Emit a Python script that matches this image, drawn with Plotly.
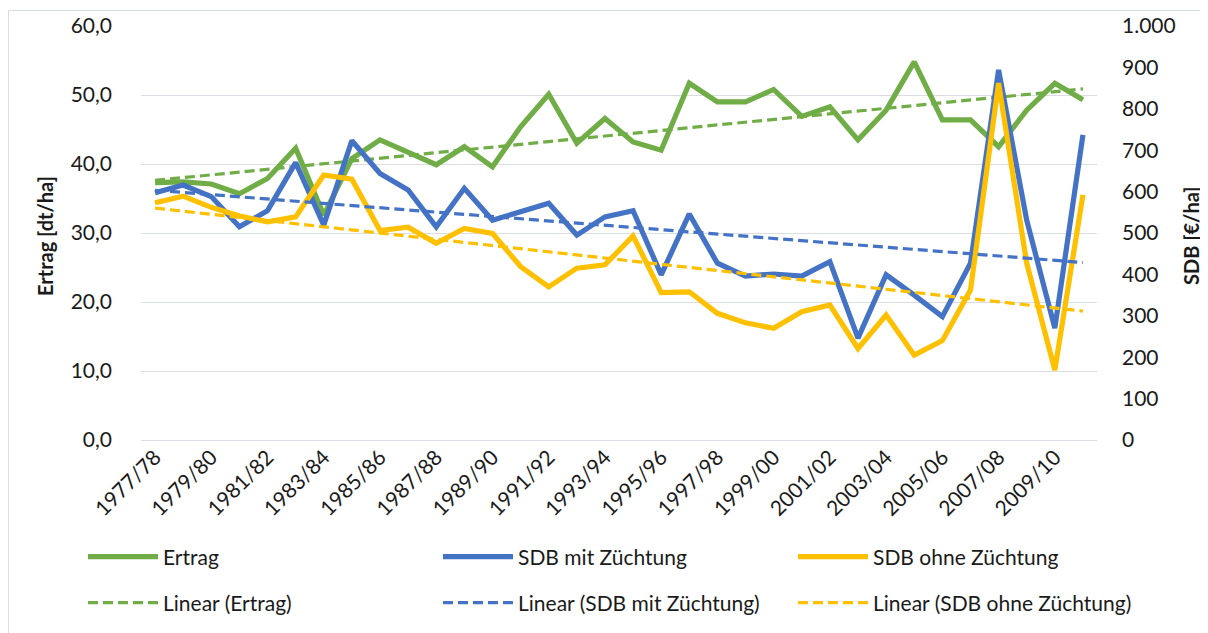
import numpy as np
import plotly.graph_objects as go

seasons = ["1977/78", "1978/79", "1979/80", "1980/81", "1981/82", "1982/83", "1983/84",
           "1984/85", "1985/86", "1986/87", "1987/88", "1988/89", "1989/90", "1990/91",
           "1991/92", "1992/93", "1993/94", "1994/95", "1995/96", "1996/97", "1997/98",
           "1998/99", "1999/00", "2000/01", "2001/02", "2002/03", "2003/04", "2004/05",
           "2005/06", "2006/07", "2007/08", "2008/09", "2009/10", "2010/11"]

ertrag = [37.3, 37.4, 37.1, 35.7, 37.9, 42.3, 32.6, 40.8, 43.5, 41.8, 39.9, 42.5,
          39.6, 45.4, 50.1, 43.0, 46.6, 43.2, 42.0, 51.7, 49.0, 49.0, 50.8, 46.9,
          48.3, 43.5, 47.8, 54.8, 46.4, 46.4, 42.5, 47.8, 51.7, 49.3]

sdb_mit = [597, 616, 588, 515, 554, 670, 519, 723, 644, 604, 515, 608, 531, 551,
           572, 495, 539, 554, 399, 546, 427, 396, 401, 396, 431, 246, 399, 350,
           298, 427, 894, 531, 270, 737]

sdb_ohne = [573, 589, 562, 541, 527, 539, 640, 630, 506, 514, 475, 511, 499, 419,
            370, 415, 423, 493, 356, 358, 306, 283, 270, 310, 326, 221, 302, 205,
            240, 362, 862, 427, 169, 592]

tick_labels = seasons[::2]

GREEN = "#70AD47"
BLUE = "#4472C4"
YELLOW = "#FFC000"
FONT = "Lato, Calibri, Carlito, sans-serif"
TXT = "#1a1a1a"
GRID = "#dadde2"


def linear_trend(values):
    idx = np.arange(len(values))
    slope, intercept = np.polyfit(idx, np.asarray(values, dtype=float), 1)
    return (slope * idx + intercept).tolist()


MAIN_W = 5.2
TREND_W = 3.2
DASH = "10px,5px"

# page has an 8px body margin; work in page pixel coordinates
OFF = 8
PAGE_W, PAGE_H = 1208, 633
W, H = PAGE_W - OFF, PAGE_H - OFF
PL, PR, PT, PB = 141, 1097, 26, 440          # plot area in page pixels
L, T = PL - OFF, PT - OFF
R, B = W - (PR - OFF), H - (PB - OFF)
pw, ph = PR - PL, PB - PT


def px_x(x):
    return (x - PL) / pw


def px_y(y):
    return (PB - y) / ph


series = [
    ("Ertrag", ertrag, GREEN, "y", False, 83, 557),
    ("SDB mit Züchtung", sdb_mit, BLUE, "y2", False, 438, 557),
    ("SDB ohne Züchtung", sdb_ohne, YELLOW, "y2", False, 793, 557),
    ("Linear (Ertrag)", linear_trend(ertrag), GREEN, "y", True, 83, 603),
    ("Linear (SDB mit Züchtung)", linear_trend(sdb_mit), BLUE, "y2", True, 438, 603),
    ("Linear (SDB ohne Züchtung)", linear_trend(sdb_ohne), YELLOW, "y2", True, 793, 603),
]

fig = go.Figure()
legends = {}
for k, (name, vals, color, yax, dashed, lx, ly) in enumerate(series):
    lid = "legend" if k == 0 else f"legend{k + 1}"
    line = dict(color=color, width=TREND_W if dashed else MAIN_W)
    if dashed:
        line["dash"] = DASH
    fig.add_trace(go.Scatter(x=seasons, y=vals, name=name, mode="lines", line=line,
                             yaxis=yax, legend=lid))
    legends[lid] = dict(orientation="v", xanchor="left", yanchor="middle",
                        x=px_x(lx), y=px_y(ly), itemwidth=70,
                        font=dict(family=FONT, size=21, color=TXT),
                        bgcolor="rgba(0,0,0,0)")

fig.update_layout(
    width=W, height=H,
    margin=dict(l=L, r=R, t=T, b=B, autoexpand=False),
    paper_bgcolor="white", plot_bgcolor="white",
    separators=",.",
    font=dict(family=FONT, size=21, color=TXT),
    xaxis=dict(type="category", tickmode="array", tickvals=tick_labels, ticktext=tick_labels,
               tickangle=-45, showgrid=False, showline=False, ticks="", automargin=False,
               tickfont=dict(family=FONT, size=21, color=TXT), range=[-0.5, len(seasons) - 0.5]),
    yaxis=dict(range=[0, 60], dtick=10, tickformat=".1f", showgrid=True, gridcolor=GRID,
               gridwidth=1, zeroline=True, zerolinecolor=GRID, zerolinewidth=1,
               showline=False, ticks="", ticklabelstandoff=28, automargin=False,
               tickfont=dict(family=FONT, size=21, color=TXT)),
    yaxis2=dict(range=[0, 1000], dtick=100, tickformat=",d", overlaying="y", side="right",
                showgrid=False, zeroline=False, showline=False, ticks="", ticklabelstandoff=24,
                automargin=False, tickfont=dict(family=FONT, size=21, color=TXT)),
    showlegend=True,
    shapes=[dict(type="rect", xref="paper", yref="paper",
                 x0=px_x(8.5), x1=px_x(1240), y0=px_y(680), y1=px_y(10.5),
                 line=dict(color="#d9dce1", width=1), fillcolor="rgba(0,0,0,0)", layer="below")],
    annotations=[
        dict(text="<b>Ertrag [dt/ha]</b>", x=px_x(45), y=px_y(236), xref="paper", yref="paper",
             xanchor="center", yanchor="middle",
             textangle=-90, showarrow=False, font=dict(family=FONT, size=20, color=TXT)),
        dict(text="<b>SDB [€/ha]</b>", x=px_x(1191), y=px_y(236), xref="paper", yref="paper",
             xanchor="center", yanchor="middle",
             textangle=-90, showarrow=False, font=dict(family=FONT, size=20, color=TXT)),
    ],
    **legends,
)

fig.write_html("out.html")
